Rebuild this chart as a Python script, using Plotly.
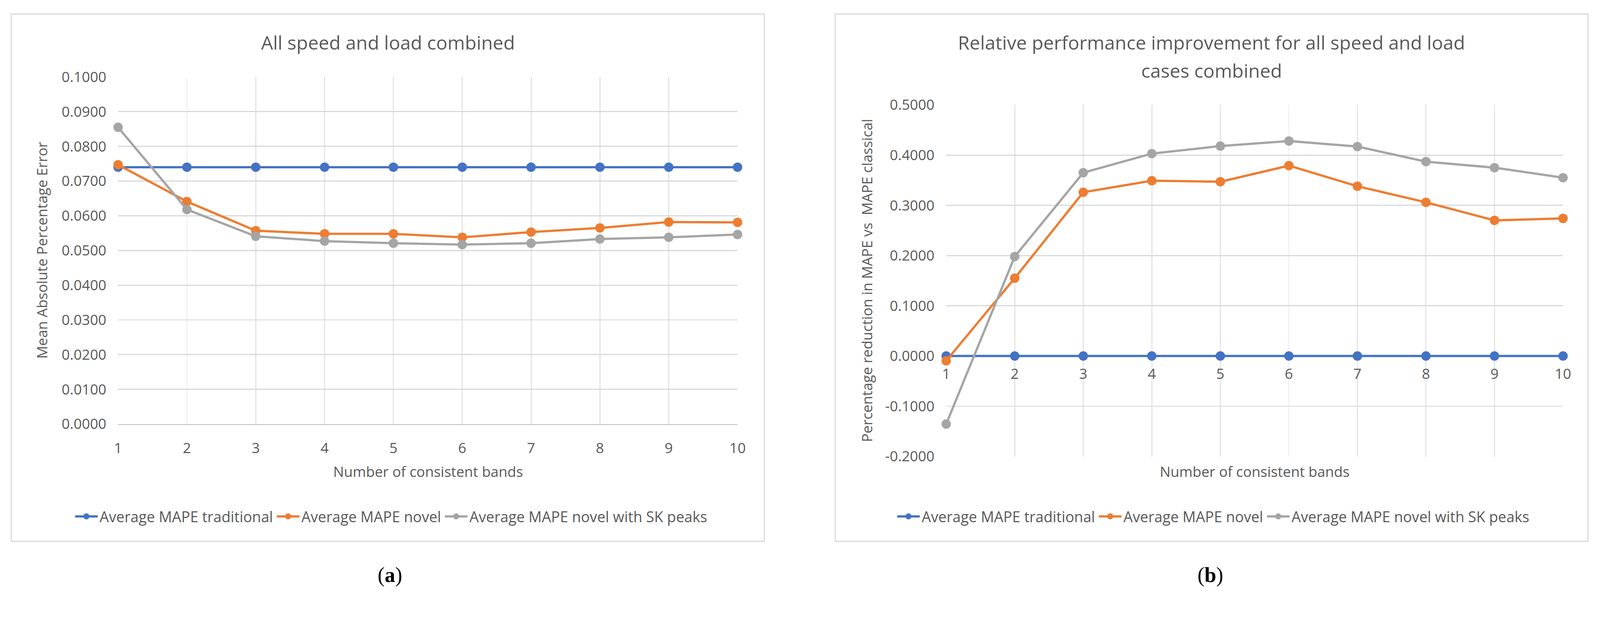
import plotly.graph_objects as go

# ---------------- data ----------------
bands = [1, 2, 3, 4, 5, 6, 7, 8, 9, 10]

a_traditional = [0.0740, 0.0740, 0.0740, 0.0740, 0.0740, 0.0740, 0.0740, 0.0740, 0.0740, 0.0740]
a_novel = [0.0747, 0.0641, 0.0557, 0.0548, 0.0548, 0.0538, 0.0553, 0.0565, 0.0582, 0.0581]
a_novel_sk = [0.0855, 0.0618, 0.0541, 0.0527, 0.0521, 0.0517, 0.0521, 0.0533, 0.0538, 0.0546]

b_traditional = [0.0, 0.0, 0.0, 0.0, 0.0, 0.0, 0.0, 0.0, 0.0, 0.0]
b_novel = [-0.0095, 0.155, 0.326, 0.349, 0.347, 0.379, 0.338, 0.306, 0.270, 0.274]
b_novel_sk = [-0.1355, 0.198, 0.365, 0.403, 0.418, 0.428, 0.417, 0.387, 0.375, 0.355]

series_names = ["Average MAPE traditional", "Average MAPE novel", "Average MAPE novel with SK peaks"]
series_colors = ["#4472C4", "#ED7D31", "#A5A5A5"]

a_yticks = [0.0, 0.01, 0.02, 0.03, 0.04, 0.05, 0.06, 0.07, 0.08, 0.09, 0.10]
a_yticktext = ["0.0000", "0.0100", "0.0200", "0.0300", "0.0400", "0.0500",
               "0.0600", "0.0700", "0.0800", "0.0900", "0.1000"]
b_yticks = [-0.2, -0.1, 0.0, 0.1, 0.2, 0.3, 0.4, 0.5]
b_yticktext = ["-0.2000", "-0.1000", "0.0000", "0.1000", "0.2000", "0.3000", "0.4000", "0.5000"]

title_a = "All speed and load combined"
title_b_lines = ["Relative performance improvement for all speed and load", "cases combined"]
xtitle = "Number of consistent bands"
ytitle_a = "Mean Absolute Percentage Error"
ytitle_b = "Percentage reduction in MAPE vs\u00a0 MAPE classical"

# ---------------- layout helpers ----------------
W, H = 4241, 1595
def px(x):
    return x / W
def py(y):
    return 1 - y / H

TXT = "#595959"
GRID = "#D9D9D9"
FONT = "Open Sans, Noto Sans, DejaVu Sans, sans-serif"

fig = go.Figure()

for ys, name, col in zip([a_traditional, a_novel, a_novel_sk], series_names, series_colors):
    fig.add_trace(go.Scatter(
        x=bands, y=ys, name=name, mode="lines+markers",
        line=dict(color=col, width=6), marker=dict(color=col, size=25),
        xaxis="x", yaxis="y", legend="legend", cliponaxis=False))

for ys, name, col in zip([b_traditional, b_novel, b_novel_sk], series_names, series_colors):
    fig.add_trace(go.Scatter(
        x=bands, y=ys, name=name, mode="lines+markers",
        line=dict(color=col, width=6), marker=dict(color=col, size=25),
        xaxis="x2", yaxis="y2", legend="legend2", cliponaxis=False))

tickfont = dict(family=FONT, size=38, color=TXT)

fig.update_layout(
    template="none",
    width=W, height=H, autosize=False,
    margin=dict(l=0, r=0, t=0, b=0, pad=0, autoexpand=False),
    paper_bgcolor="white", plot_bgcolor="white",
    font=dict(family=FONT, color=TXT),
    xaxis=dict(domain=[px(313), px(1955)], range=[1, 10], tickvals=bands,
               showgrid=True, gridcolor=GRID, gridwidth=2, zeroline=False,
               showline=True, linecolor="#BFBFBF", linewidth=3, automargin=False,
               ticks="", tickfont=tickfont, ticklabelstandoff=28, anchor="y"),
    yaxis=dict(domain=[py(1124), py(204)], range=[0, 0.1], tickvals=a_yticks,
               ticktext=a_yticktext, showgrid=True, gridcolor=GRID, gridwidth=3,
               zeroline=False, showline=False, ticks="", tickfont=tickfont,
               ticklabelstandoff=30, anchor="x", automargin=False),
    xaxis2=dict(domain=[px(2508), px(4143)], range=[1, 10], tickvals=bands,
                showgrid=True, gridcolor=GRID, gridwidth=2, zeroline=False,
                showline=False, ticks="", tickfont=tickfont, ticklabelstandoff=22,
                automargin=False,
                anchor="free", position=py(1210) + (py(278) - py(1210)) * (0.2 / 0.7)),
    yaxis2=dict(domain=[py(1210), py(278)], range=[-0.2, 0.5], tickvals=b_yticks,
                ticktext=b_yticktext, showgrid=True, gridcolor=GRID, gridwidth=3,
                zeroline=False, showline=False, ticks="", tickfont=tickfont,
                ticklabelstandoff=30, anchor="x2", automargin=False),
    legend=dict(orientation="h", x=px(1037), xanchor="center", y=py(1369), yanchor="middle",
                font=dict(family=FONT, size=39, color=TXT), bgcolor="rgba(0,0,0,0)",
                itemwidth=60, tracegroupgap=0),
    legend2=dict(orientation="h", x=px(3216), xanchor="center", y=py(1369), yanchor="middle",
                 font=dict(family=FONT, size=39, color=TXT), bgcolor="rgba(0,0,0,0)",
                 itemwidth=60, tracegroupgap=0),
    shapes=[
        dict(type="rect", xref="paper", yref="paper", x0=px(30), x1=px(2026),
             y0=py(1435), y1=py(37), line=dict(color=GRID, width=3), layer="below"),
        dict(type="rect", xref="paper", yref="paper", x0=px(2214), x1=px(4209),
             y0=py(1435), y1=py(37), line=dict(color=GRID, width=3), layer="below"),
    ],
)

ann = []
ann.append(dict(text=title_a, x=px(1028), y=py(113), xref="paper", yref="paper",
                xanchor="center", yanchor="middle", showarrow=False,
                font=dict(family=FONT, size=50, color=TXT)))
for line, yy in zip(title_b_lines, [113, 187]):
    ann.append(dict(text=line, x=px(3211), y=py(yy), xref="paper", yref="paper",
                    xanchor="center", yanchor="middle", showarrow=False,
                    font=dict(family=FONT, size=50, color=TXT)))
ann.append(dict(text=xtitle, x=px(1134), y=py(1249), xref="paper", yref="paper",
                xanchor="center", yanchor="middle", showarrow=False,
                font=dict(family=FONT, size=38, color=TXT)))
ann.append(dict(text=xtitle, x=px(3325), y=py(1249), xref="paper", yref="paper",
                xanchor="center", yanchor="middle", showarrow=False,
                font=dict(family=FONT, size=38, color=TXT)))
ann.append(dict(text=ytitle_a, x=px(110), y=py(664), xref="paper", yref="paper",
                xanchor="center", yanchor="middle", showarrow=False, textangle=-90,
                font=dict(family=FONT, size=38, color=TXT)))
ann.append(dict(text=ytitle_b, x=px(2297), y=py(744), xref="paper", yref="paper",
                xanchor="center", yanchor="middle", showarrow=False, textangle=-90,
                font=dict(family=FONT, size=38, color=TXT)))
ann.append(dict(text="(<b>a</b>)", x=px(1033), y=py(1524), xref="paper", yref="paper",
                xanchor="center", yanchor="middle", showarrow=False,
                font=dict(family="Liberation Serif, DejaVu Serif, serif", size=56, color="black")))
ann.append(dict(text="(<b>b</b>)", x=px(3208), y=py(1524), xref="paper", yref="paper",
                xanchor="center", yanchor="middle", showarrow=False,
                font=dict(family="Liberation Serif, DejaVu Serif, serif", size=56, color="black")))
fig.update_layout(annotations=ann)

post = (
    "document.body.style.margin='0';document.body.style.padding='0';"
    "document.body.style.overflow='hidden';"
    "document.documentElement.style.overflow='hidden';"
    "var gd=document.getElementById('{plot_id}');"
    "var s=Math.min(window.innerWidth/%d, window.innerHeight/%d, 1);"
    "if(s<1){gd.style.transformOrigin='0 0';gd.style.transform='scale('+s+')';}"
) % (W, H)
fig.write_html("out.html", post_script=post, config={"displayModeBar": False})
